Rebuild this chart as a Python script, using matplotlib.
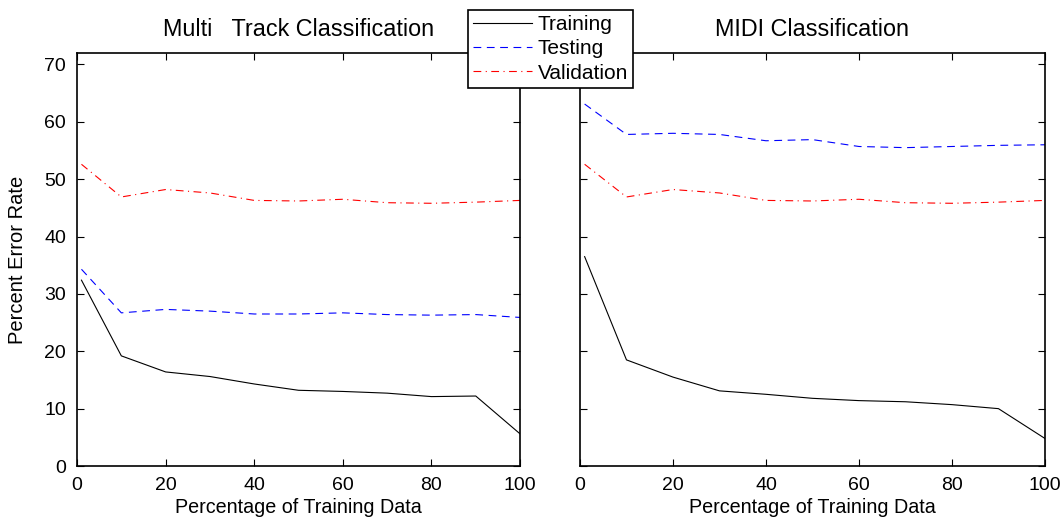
import matplotlib
matplotlib.use("Agg")
import matplotlib.pyplot as plt

plt.rcParams['font.family'] = ['Liberation Sans', 'DejaVu Sans']

x = [1, 10, 20, 30, 40, 50, 60, 70, 80, 90, 100]

# Multi Track Classification
mt_train = [32.4, 19.2, 16.4, 15.6, 14.3, 13.2, 13.0, 12.7, 12.1, 12.2, 5.6]
mt_test = [34.3, 26.7, 27.3, 27.0, 26.5, 26.5, 26.7, 26.4, 26.3, 26.4, 25.9]
mt_valid = [52.6, 46.9, 48.2, 47.6, 46.3, 46.2, 46.5, 45.9, 45.8, 46.0, 46.3]

# MIDI Classification
midi_train = [36.5, 18.5, 15.5, 13.1, 12.5, 11.8, 11.4, 11.2, 10.7, 10.0, 4.8]
midi_test = [63.1, 57.8, 58.0, 57.8, 56.7, 56.9, 55.7, 55.5, 55.7, 55.9, 56.0]
midi_valid = [52.6, 46.9, 48.2, 47.6, 46.3, 46.2, 46.5, 45.9, 45.8, 46.0, 46.3]

fig = plt.figure(figsize=(10.64, 5.19), dpi=100)
ax1 = fig.add_axes([0.0724, 0.1021, 0.4164, 0.7958])
ax2 = fig.add_axes([0.5451, 0.1021, 0.437, 0.7958])

for ax, tr, te, va, title in [(ax1, mt_train, mt_test, mt_valid, "Multi   Track Classification"),
                              (ax2, midi_train, midi_test, midi_valid, "MIDI Classification")]:
    ax.plot(x, tr, color='k', linestyle='-', linewidth=0.8, label='Training')
    ax.plot(x, te, color='b', linestyle=(0, (7, 5)), linewidth=0.8, label='Testing')
    ax.plot(x, va, color='r', linestyle=(0, (7, 4, 1, 4)), linewidth=0.8, label='Validation')
    ax.set_xlim(0, 100)
    ax.set_ylim(0, 72)
    ax.set_xticks([0, 20, 40, 60, 80, 100])
    ax.set_yticks([0, 10, 20, 30, 40, 50, 60, 70])
    ax.tick_params(direction='in', top=True, right=True, length=5, labelsize=14, pad=8)
    for s in ax.spines.values():
        s.set_linewidth(1.2)
    ax.set_title(title, fontsize=16.8, pad=12)
    ax.set_xlabel("Percentage of Training Data", fontsize=14.2, labelpad=3)

ax1.set_ylabel("Percent Error Rate", fontsize=14.5, labelpad=12)
ax2.set_yticklabels([])

handles, labels = ax1.get_legend_handles_labels()
leg = fig.legend(handles, labels, loc='upper left', bbox_to_anchor=(468 / 1064, 1 - 10 / 519),
                 fontsize=15, frameon=True, fancybox=False, edgecolor='k',
                 borderpad=0.25, labelspacing=0.25, handlelength=2.8, handletextpad=0.3,
                 borderaxespad=0)
leg.get_frame().set_linewidth(1.2)
leg.get_frame().set_alpha(1)

fig.savefig("out.png", dpi=100)
